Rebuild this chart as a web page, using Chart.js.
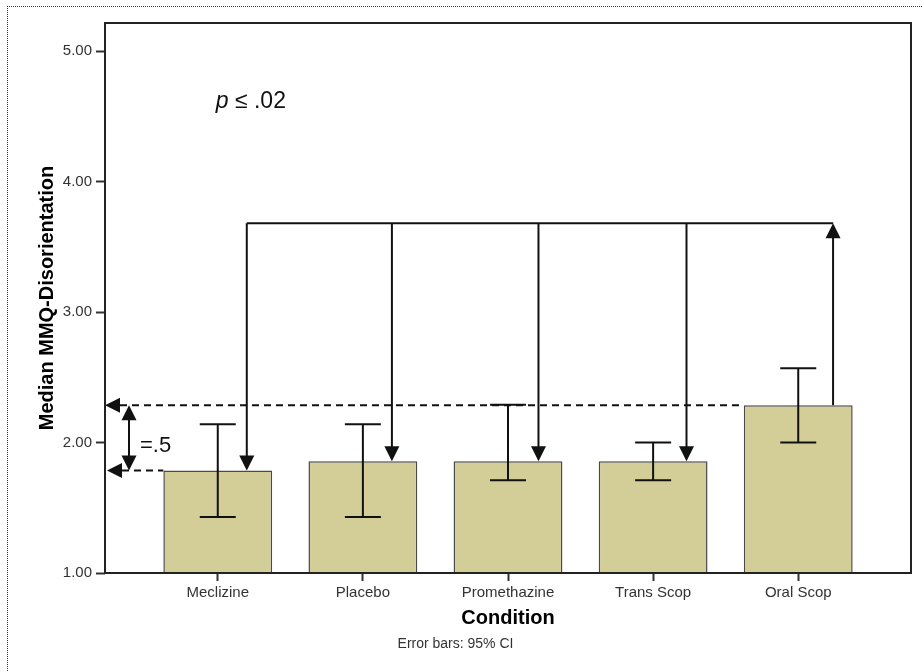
<!DOCTYPE html>
<html>
<head>
<meta charset="utf-8">
<title>Median MMQ-Disorientation by Condition</title>
<script src="https://cdn.jsdelivr.net/npm/chart.js@4.4.1/dist/chart.umd.min.js"></script>
<style>
    html, body {
        margin: 0;
        padding: 0;
        background: #ffffff;
    }

    #wrap {
        position: relative;
        width: 922px;
        height: 671px;
    }

    #frame {
        position: absolute;
        left: 7px;
        top: 6px;
        right: 0;
        bottom: 0;
        border-top: 1px dotted #333;
        border-left: 1px dotted #333;
        pointer-events: none;
    }
</style>
</head>
<body>
<div id="wrap">
    <canvas id="mmqChart" width="922" height="671"></canvas>
    <div id="frame"></div>
</div>

<script>
"use strict";

/* =========================================================
   DATA
========================================================= */

const conditions = [
    "Meclizine",
    "Placebo",
    "Promethazine",
    "Trans Scop",
    "Oral Scop"
];

const medians = [1.786, 1.857, 1.857, 1.857, 2.286];

const ciLower = [1.43, 1.43, 1.71, 1.71, 2.00];

const ciUpper = [2.14, 2.14, 2.29, 2.00, 2.57];

const yTicks = [1, 2, 3, 4, 5];

const bracketLevel = 3.68;


/* =========================================================
   STYLE
========================================================= */

const FONT = "'Liberation Sans', Arial, sans-serif";
const INK = "#111111";

Chart.defaults.font.family = FONT;
Chart.defaults.color = "#333333";


/* =========================================================
   HELPERS
========================================================= */

function arrowHead(ctx, x, y, dir, size) {

    // tip at (x, y), dir: "up" | "down" | "left"
    const h = size;
    const w = size / 2;

    ctx.beginPath();

    if (dir === "down") {
        ctx.moveTo(x, y);
        ctx.lineTo(x - w, y - h);
        ctx.lineTo(x + w, y - h);
    } else if (dir === "up") {
        ctx.moveTo(x, y);
        ctx.lineTo(x - w, y + h);
        ctx.lineTo(x + w, y + h);
    } else {
        ctx.moveTo(x, y);
        ctx.lineTo(x + h, y - w);
        ctx.lineTo(x + h, y + w);
    }

    ctx.closePath();
    ctx.fill();

}


/* =========================================================
   ERROR BARS
========================================================= */

const errorBarPlugin = {

    id: "errorBars",

    afterDatasetsDraw(chart) {

        const ctx = chart.ctx;
        const xs = chart.scales.x;
        const ys = chart.scales.y;
        const cap = 18;

        ctx.save();
        ctx.strokeStyle = INK;
        ctx.lineWidth = 2;

        conditions.forEach((c, i) => {

            const x = xs.getPixelForValue(i);
            const lo = ys.getPixelForValue(ciLower[i]);
            const hi = ys.getPixelForValue(ciUpper[i]);

            ctx.beginPath();
            ctx.moveTo(x, lo);
            ctx.lineTo(x, hi);
            ctx.moveTo(x - cap, lo);
            ctx.lineTo(x + cap, lo);
            ctx.moveTo(x - cap, hi);
            ctx.lineTo(x + cap, hi);
            ctx.stroke();

        });

        ctx.restore();

    }

};


/* =========================================================
   COMPARISON ARROWS + ANNOTATIONS
========================================================= */

const annotationPlugin = {

    id: "comparisons",

    afterDatasetsDraw(chart) {

        const ctx = chart.ctx;
        const xs = chart.scales.x;
        const ys = chart.scales.y;
        const area = chart.chartArea;

        // arrows sit a little right of each bar centre
        const offsets = [0.20, 0.20, 0.21, 0.23, 0.24];
        const head = 15;

        const yBracket = ys.getPixelForValue(bracketLevel);
        const last = conditions.length - 1;

        ctx.save();
        ctx.strokeStyle = INK;
        ctx.fillStyle = INK;
        ctx.lineWidth = 2;

        // horizontal bracket
        ctx.beginPath();
        ctx.moveTo(xs.getPixelForValue(0 + offsets[0]), yBracket);
        ctx.lineTo(xs.getPixelForValue(last + offsets[last]), yBracket);
        ctx.stroke();

        // down arrows to the four lower bars
        for (let i = 0; i < last; i++) {

            const x = xs.getPixelForValue(i + offsets[i]);
            const yTop = ys.getPixelForValue(medians[i]);

            ctx.beginPath();
            ctx.moveTo(x, yBracket);
            ctx.lineTo(x, yTop - head + 1);
            ctx.stroke();

            arrowHead(ctx, x, yTop, "down", head);

        }

        // up arrow from oral scop
        const xo = xs.getPixelForValue(last + offsets[last]);
        const yo = ys.getPixelForValue(medians[last]);

        ctx.beginPath();
        ctx.moveTo(xo, yo);
        ctx.lineTo(xo, yBracket + head - 1);
        ctx.stroke();

        arrowHead(ctx, xo, yBracket, "up", head);

        // dashed reference lines
        const yHigh = ys.getPixelForValue(medians[last]);
        const yLow = ys.getPixelForValue(medians[0]);
        const meta = chart.getDatasetMeta(0);
        const oralLeft = meta.data[last].x - meta.data[last].width / 2;
        const meclLeft = meta.data[0].x - meta.data[0].width / 2;

        ctx.setLineDash([7, 5]);

        ctx.beginPath();
        ctx.moveTo(area.left + head, yHigh);
        ctx.lineTo(oralLeft, yHigh);
        ctx.moveTo(area.left + 2 + head, yLow);
        ctx.lineTo(meclLeft, yLow);
        ctx.stroke();

        ctx.setLineDash([]);

        arrowHead(ctx, area.left, yHigh, "left", head);
        arrowHead(ctx, area.left + 2, yLow, "left", head);

        // double arrow showing the difference
        const xd = area.left + 24;

        ctx.beginPath();
        ctx.moveTo(xd, yHigh + head - 1);
        ctx.lineTo(xd, yLow - head + 1);
        ctx.stroke();

        arrowHead(ctx, xd, yHigh, "up", head);
        arrowHead(ctx, xd, yLow, "down", head);

        // labels
        ctx.textBaseline = "alphabetic";
        ctx.textAlign = "left";

        ctx.font = "22px " + FONT;
        ctx.fillText("=.5", xd + 11, (yHigh + yLow) / 2 + 14);

        const px = xs.getPixelForValue(0) - 2;
        const py = ys.getPixelForValue(4.56);

        ctx.font = "italic 23px " + FONT;
        ctx.fillText("p", px, py);

        const pw = ctx.measureText("p").width;

        ctx.font = "23px " + FONT;
        ctx.fillText(" \u2264 .02", px + pw, py);

        // plot frame
        ctx.lineWidth = 2;
        ctx.strokeStyle = "#222222";
        ctx.strokeRect(area.left, area.top, area.right - area.left, area.bottom - area.top);

        ctx.restore();

    }

};


/* =========================================================
   CHART
========================================================= */

function createChart() {

    const canvas = document.getElementById("mmqChart");

    new Chart(canvas, {

        type: "bar",

        data: {

            datasets: [

                {

                    label: "Median MMQ-Disorientation",

                    data: conditions.map((c, i) => ({ x: i, y: medians[i] })),

                    base: 1,

                    backgroundColor: "#d3ce98",

                    borderColor: "#4a4a4a",

                    borderWidth: 1.5,

                    barPercentage: 0.75,

                    categoryPercentage: 1

                }

            ]

        },

        options: {

            responsive: false,

            animation: false,

            layout: {

                padding: { top: 23, right: 11, left: 0, bottom: 0 }

            },

            scales: {

                x: {

                    type: "linear",

                    offset: false,

                    min: -0.777,

                    max: 4.777,

                    afterBuildTicks: (scale) => {
                        scale.ticks = conditions.map((c, i) => ({ value: i }));
                    },

                    afterFit: (scale) => {
                        scale.height = 63.2;
                    },

                    ticks: {

                        maxRotation: 0,

                        autoSkip: false,

                        padding: 3,

                        color: "#333333",

                        font: { size: 15 },

                        callback: (value) => conditions[value]

                    },

                    grid: {

                        offset: false,

                        drawOnChartArea: false,

                        tickLength: 8,

                        tickWidth: 2,

                        tickColor: "#333333"

                    },

                    border: { display: false },

                    title: {

                        display: true,

                        text: "Condition",

                        color: "#000000",

                        font: { size: 20, weight: "bold" },

                        padding: { top: 0, bottom: 6.2 }

                    }

                },

                y: {

                    min: 1,

                    max: 5.215,

                    afterBuildTicks: (scale) => {
                        scale.ticks = yTicks.map((v) => ({ value: v }));
                    },

                    afterFit: (scale) => {
                        scale.width = 105;
                    },

                    ticks: {

                        padding: 4,

                        color: "#333333",

                        font: { size: 15 },

                        callback: (value) => Number(value).toFixed(2)

                    },

                    grid: {

                        drawOnChartArea: false,

                        tickLength: 9,

                        tickWidth: 2,

                        tickColor: "#333333"

                    },

                    border: { display: false },

                    title: {

                        display: true,

                        text: "Median MMQ-Disorientation",

                        color: "#000000",

                        font: { size: 20, weight: "bold" },

                        padding: { top: 35, bottom: 0 }

                    }

                }

            },

            plugins: {

                legend: { display: false },

                tooltip: { enabled: false },

                title: {

                    display: true,

                    position: "bottom",

                    text: "Error bars: 95% CI",

                    color: "#333333",

                    font: { size: 14, weight: "normal" },

                    padding: { top: 0, bottom: 18 }

                }

            }

        },

        plugins: [errorBarPlugin, annotationPlugin]

    });

}

createChart();
</script>
</body>
</html>
